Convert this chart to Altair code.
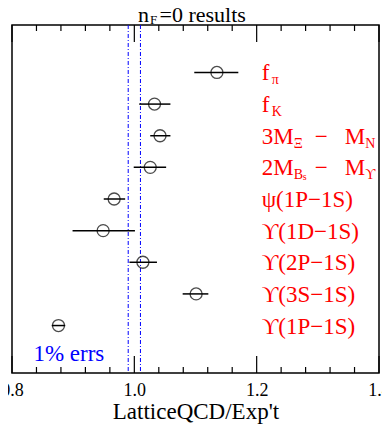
import altair as alt
import pandas as pd

# ---- data ----
rows = list(range(9))
ratio = [1.135, 1.033, 1.042, 1.026, 0.967, 0.949, 1.014, 1.101, 0.876]
err_lo = [1.098, 1.008, 1.026, 0.999, 0.950, 0.899, 0.992, 1.079, 0.865]
err_hi = [1.170, 1.059, 1.059, 1.052, 0.985, 1.001, 1.037, 1.121, 0.887]
band = [0.99, 1.01]
major_ticks = [0.8, 1.0, 1.2, 1.4]
minor_ticks = [0.84, 0.88, 0.92, 0.96, 1.04, 1.08, 1.12, 1.16, 1.24, 1.28, 1.32, 1.36]

# label text split into (text, kind) segments; kind: main / sub / subsub
label_segments = [
    [("f", "main"), ("π", "sub")],
    [("f", "main"), ("K", "sub")],
    [("3M", "main"), ("Ξ", "sub"), ("−", "main"), ("M", "main"), ("N", "sub")],
    [("2M", "main"), ("B", "sub"), ("s", "subsub"), ("−", "main"), ("M", "main"), ("ϒ", "sub")],
    [("ψ(1P−1S)", "main")],
    [("ϒ(1D−1S)", "main")],
    [("ϒ(2P−1S)", "main")],
    [("ϒ(3S−1S)", "main")],
    [("ϒ(1P−1S)", "main")],
]
title_segments = [("n", "main"), ("F", "sub"), ("=0 results", "main")]
note_text = "1% errs"
x_title = "LatticeQCD/Exp't"

# ---- layout (pixels / styling) ----
W, H = 367, 348
FONT = "Liberation Serif"
X0, X1 = 0.8, 1.4
label_x = 1.2082
segment_px = [[0, 10], [0, 10], [0, 32, 53, 83, 103.5], [0, 32, 41, 53, 83, 103.5],
              [0], [0], [0], [0], [0]]
title_px = [126, 138, 147.5]
note_x, note_row = 0.835, 9.11

pts = pd.DataFrame({"row": rows, "ratio": ratio, "lo": err_lo, "hi": err_hi})

seg_rows = []
for r, (segs, offs) in enumerate(zip(label_segments, segment_px)):
    for (t, k), o in zip(segs, offs):
        seg_rows.append({"row": r, "text": t, "kind": k, "off": o})
segs_df = pd.DataFrame(seg_rows)

title_df = pd.DataFrame([{"text": t, "kind": k, "px": p} for (t, k), p in zip(title_segments, title_px)])

xs = alt.Scale(domain=[X0, X1], nice=False, zero=False)
ys = alt.Scale(domain=[-1.5, 9.5], reverse=True, nice=False, zero=False)

xaxis = alt.Axis(values=major_ticks, format=".1f", ticks=False, domain=False, grid=False,
                 labelFont=FONT, labelFontSize=18, labelColor="black", labelPadding=8,
                 labelFlush=False, labelOverlap=False,
                 title=x_title, titleFont=FONT, titleFontSize=23, titleFontWeight="normal",
                 titleColor="black", titlePadding=1)

base = alt.Chart(pts)

bars = base.mark_rule(color="black", strokeWidth=1.5).encode(
    x=alt.X("lo:Q", scale=xs, axis=xaxis),
    x2="hi:Q",
    y=alt.Y("row:Q", scale=ys, axis=None),
)
circles = base.mark_point(shape="circle", filled=False, size=144, color="black", strokeWidth=1.3).encode(
    x=alt.X("ratio:Q", scale=xs),
    y=alt.Y("row:Q", scale=ys),
)

band_df = pd.DataFrame({"b": band})
band_lines = alt.Chart(band_df).mark_rule(color="#0000ff", strokeWidth=1, strokeDash=[4, 2, 1, 2]).encode(
    x=alt.X("b:Q", scale=xs)
)

def tick_layer(vals, length, top):
    df = pd.DataFrame({"t": vals})
    if top:
        yy, yy2 = 0, length
    else:
        yy, yy2 = H, H - length
    return alt.Chart(df).mark_rule(color="black", strokeWidth=1.2).encode(
        x=alt.X("t:Q", scale=xs), y=alt.value(yy), y2=alt.value(yy2)
    )

ticks = [tick_layer(major_ticks, 17, True), tick_layer(major_ticks, 17, False),
         tick_layer(minor_ticks, 6, True), tick_layer(minor_ticks, 6, False)]

kind_style = {"main": (23, 8), "sub": (14, 12), "subsub": (10, 13)}

def label_layer(kind):
    fs, dy = kind_style[kind]
    return alt.Chart(segs_df).transform_filter(alt.datum.kind == kind).transform_calculate(
        xpos=f"{label_x} + datum.off * {(X1 - X0) / W}"
    ).mark_text(
        align="left", baseline="alphabetic", font=FONT, fontSize=fs, dy=dy, color="#ff0000"
    ).encode(
        x=alt.X("xpos:Q", scale=xs),
        y=alt.Y("row:Q", scale=ys),
        text="text:N",
    )

labels = [label_layer(k) for k in ["main", "sub", "subsub"]]

title_main = alt.Chart(title_df).transform_filter(alt.datum.kind == "main").mark_text(
    align="left", baseline="alphabetic", font=FONT, fontSize=22, color="black"
).encode(x=alt.X("px:Q", scale=None), y=alt.value(-3), text="text:N")
title_sub = alt.Chart(title_df).transform_filter(alt.datum.kind == "sub").mark_text(
    align="left", baseline="alphabetic", font=FONT, fontSize=13, color="black"
).encode(x=alt.X("px:Q", scale=None), y=alt.value(-1), text="text:N")

note_df = pd.DataFrame({"x": [note_x], "row": [note_row], "text": [note_text]})
note = alt.Chart(note_df).mark_text(
    align="left", baseline="alphabetic", font=FONT, fontSize=23, color="#0000ff"
).encode(x=alt.X("x:Q", scale=xs), y=alt.Y("row:Q", scale=ys), text="text:N")

chart = alt.layer(
    band_lines, *ticks, bars, circles, *labels, note, title_main, title_sub
).properties(
    width=W, height=H,
    autosize=alt.AutoSizeParams(type="none"),
    padding={"left": 4, "top": 17, "right": 3, "bottom": 51},
).configure_view(stroke="black", strokeWidth=1.5)

chart.save("out.html", embed_options={"renderer": "svg", "actions": False})
